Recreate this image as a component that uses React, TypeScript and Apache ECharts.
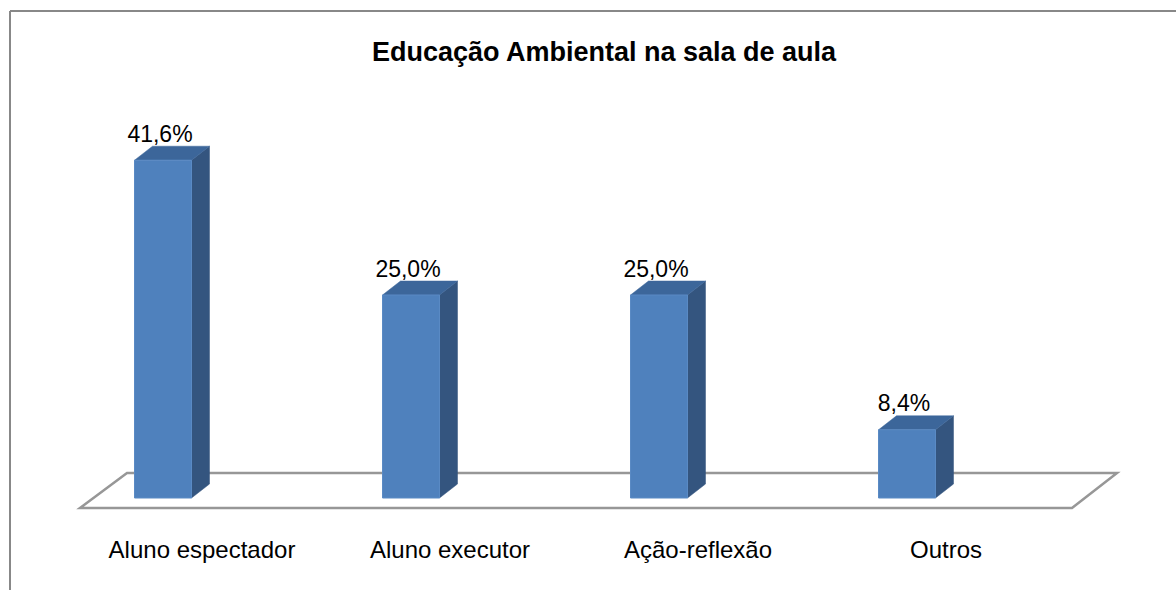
import React, { useEffect, useRef } from "react";
import * as echarts from "echarts";

const titleText = "Educação Ambiental na sala de aula";
const categories = ["Aluno espectador", "Aluno executor", "Ação-reflexão", "Outros"];
const values = [41.6, 25.0, 25.0, 8.4];

const FONT = '"Liberation Sans", Arial, Helvetica, sans-serif';

export default function App() {
  const ref = useRef<HTMLDivElement>(null);
  useEffect(() => {
    if (!ref.current) return;
    const chart = echarts.init(ref.current, null, { renderer: "svg" });
    const dx = 18;
    const dy = -14;
    const w = 57;
    chart.setOption({
      animation: false,
      backgroundColor: "#ffffff",
      title: {
        text: titleText,
        left: 599,
        top: 33,
        textAlign: "center",
        textStyle: { fontFamily: FONT, fontSize: 27, fontWeight: "bold", color: "#000" },
      },
      grid: { left: 39, width: 992, top: 92, height: 406 },
      xAxis: {
        type: "category",
        data: categories,
        axisLine: { show: false },
        axisTick: { show: false },
        splitLine: { show: false },
        axisLabel: {
          margin: 39,
          fontFamily: FONT,
          fontSize: 24,
          color: "#000",
          padding: [0, 0, 0, 78],
        },
      },
      yAxis: {
        type: "value",
        min: 0,
        max: 50,
        show: false,
        splitLine: { show: false },
      },
      graphic: [
        {
          type: "line",
          z: -10,
          shape: { x1: 10, y1: 11, x2: 1176, y2: 11 },
          style: { stroke: "#888888", lineWidth: 2 },
        },
        {
          type: "line",
          z: -10,
          shape: { x1: 10, y1: 11, x2: 10, y2: 590 },
          style: { stroke: "#888888", lineWidth: 2 },
        },
        {
          type: "polygon",
          z: -5,
          shape: { points: [[80, 508], [1072, 508], [1117, 473], [127, 473]] },
          style: { fill: "#ffffff", stroke: "#979797", lineWidth: 2.5 },
        },
      ],
      series: [
        {
          type: "custom",
          z: 10,
          encode: { x: 0, y: 1 },
          data: values.map((v, i) => [i, v]),
          renderItem: (params: any, api: any) => {
            const idx = api.value(0);
            const v = api.value(1);
            const top = api.coord([idx, v]);
            const base = api.coord([idx, 0]);
            const xl = top[0] - w / 2;
            const xr = top[0] + w / 2;
            const yt = top[1];
            const yb = base[1];
            const label = v.toFixed(1).replace(".", ",") + "%";
            return {
              type: "group",
              children: [
                {
                  type: "polygon",
                  shape: { points: [[xr, yt], [xr + dx, yt + dy], [xr + dx, yb + dy], [xr, yb]] },
                  style: { fill: "#34557f", stroke: "#34557f", lineWidth: 0.5 },
                },
                {
                  type: "polygon",
                  shape: { points: [[xl, yt], [xl + dx, yt + dy], [xr + dx, yt + dy], [xr, yt]] },
                  style: { fill: "#3c669a", stroke: "#3c669a", lineWidth: 0.5 },
                },
                {
                  type: "rect",
                  shape: { x: xl, y: yt, width: w, height: yb - yt },
                  style: { fill: "#4f81bd", stroke: "#5a8ac4", lineWidth: 1 },
                },
                {
                  type: "text",
                  x: top[0] - 3,
                  y: yt + dy - 1,
                  style: {
                    text: label,
                    fill: "#000",
                    font: `23px ${FONT}`,
                    textAlign: "center",
                    textVerticalAlign: "bottom",
                  },
                },
              ],
            };
          },
        },
      ],
    });
    return () => chart.dispose();
  }, []);
  return (
    <div
      ref={ref}
      style={{ position: "fixed", left: 0, top: 0, width: 1176, height: 590 }}
    />
  );
}
